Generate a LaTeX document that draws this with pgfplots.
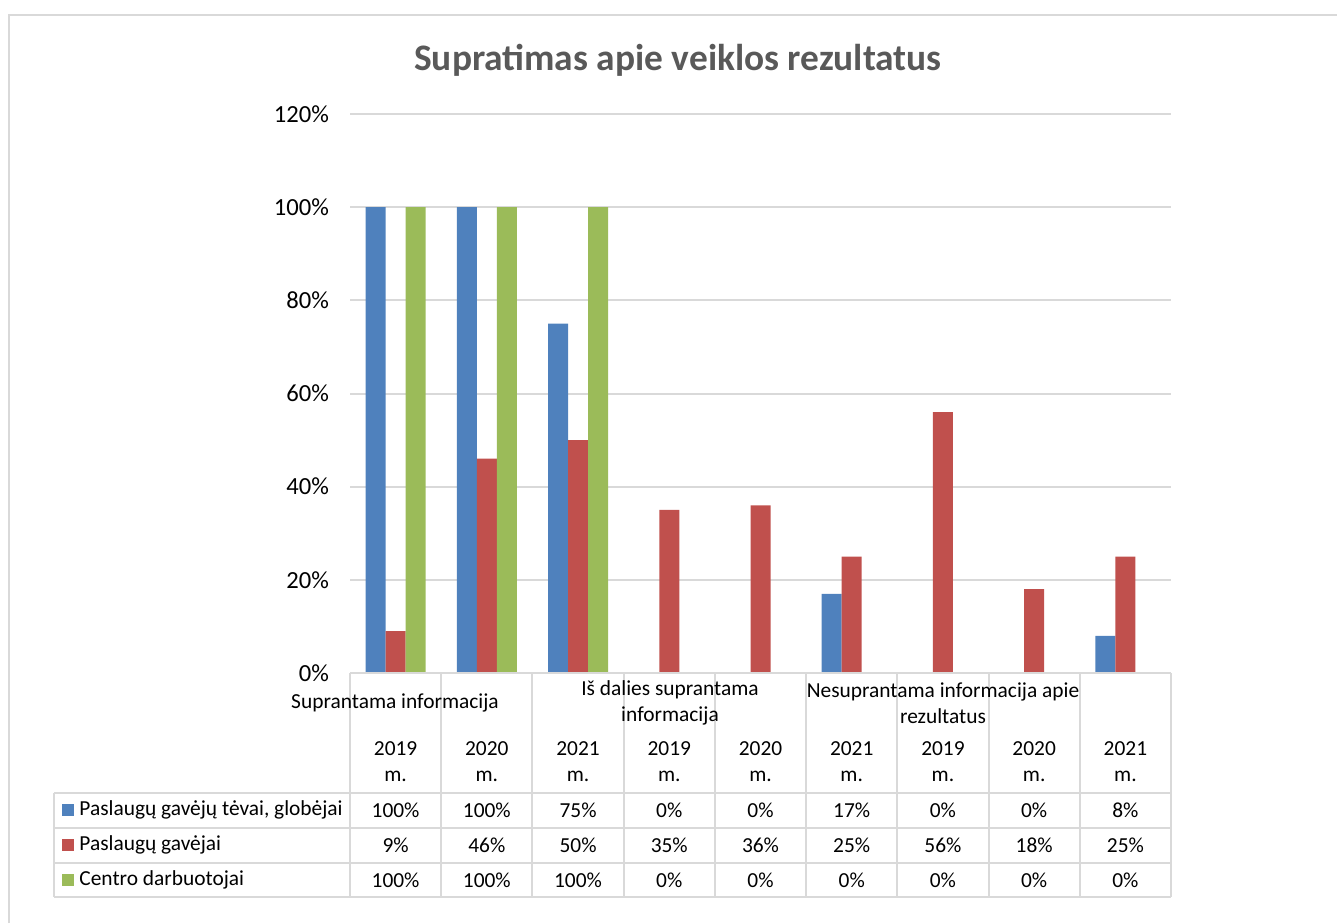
\documentclass[border=0pt]{standalone}
\usepackage{pgfplots}
\pgfplotsset{compat=1.18}
\usepackage{fontspec}
\setmainfont{Carlito}
\definecolor{sblue}{HTML}{4F81BD}
\definecolor{sred}{HTML}{C0504D}
\definecolor{sgreen}{HTML}{9BBB59}
\definecolor{gridgray}{HTML}{D9D9D9}
\definecolor{titlegray}{HTML}{595959}
\begin{document}
\begin{tikzpicture}
\begin{scope}[x=0.5pt,y=-0.5pt]
\path[use as bounding box] (0,0) rectangle (1337,923);
\draw[gridgray, line width=1pt] (9,923) -- (9,15) -- (1337,15);
\end{scope}
\begin{axis}[
  at={(175pt,-336.5pt)}, anchor=south west,
  scale only axis, width=410.5pt, height=279.5pt,
  xmin=-0.5, xmax=8.5, ymin=0, ymax=120,
  ytick={0,20,...,120},
  yticklabel={\pgfmathprintnumber{\tick}\%},
  /pgf/number format/assume math mode=true,
  yticklabel style={font=\fontsize{12.3}{14}\selectfont, text=black, xshift=-7pt},
  xtick=\empty,
  ymajorgrids, grid style={draw=gridgray, line width=1pt},
  axis line style={draw=none}, tick style={draw=none},
  ybar=0pt, bar width=10pt,
  clip=false,
]
\addplot[fill=sblue, draw=none] coordinates {(0,100) (1,100) (2,75) (3,0) (4,0) (5,17) (6,0) (7,0) (8,8)};
\addplot[fill=sred, draw=none] coordinates {(0,9) (1,46) (2,50) (3,35) (4,36) (5,25) (6,56) (7,18) (8,25)};
\addplot[fill=sgreen, draw=none] coordinates {(0,100) (1,100) (2,100) (3,0) (4,0) (5,0) (6,0) (7,0) (8,0)};
\end{axis}
\begin{scope}[x=0.5pt,y=-0.5pt, every node/.style={font=\fontsize{10.7}{13}\selectfont, inner sep=0pt}]
\node[font=\fontsize{18.7}{20}\selectfont\bfseries, text=titlegray] at (678,60) {Supratimas apie veiklos rezultatus};
% table grid
\draw[gridgray, line width=1pt] (350,673) -- (1171,673);
\foreach \k in {0,...,9} {
  \draw[gridgray, line width=1pt] ({350+\k*91.222},673) -- ({350+\k*91.222},897);
}
\foreach \yy in {793,828,863,897} {
  \draw[gridgray, line width=1pt] (54,\yy) -- (1171,\yy);
}
\draw[gridgray, line width=1pt] (54,793) -- (54,897);
% group labels
\node[align=center] at (395,703) {Suprantama informacija};
\node[align=center] at (670,703) {Iš dalies suprantama\\informacija};
\node[align=center] at (943,703) {Nesuprantama informacija apie\\rezultatus};
% years
\foreach \yr [count=\i from 0] in {2019,2020,2021,2019,2020,2021,2019,2020,2021} {
  \node[align=center] at ({350+(\i+0.5)*91.222},762) {\yr\\m.};
}
% legend keys
\fill[sblue] (62,804) rectangle (74,816);
\fill[sred] (62,839) rectangle (74,851);
\fill[sgreen] (62,874) rectangle (74,886);
\node[anchor=west] at (79,810) {Paslaugų gavėjų tėvai, globėjai};
\node[anchor=west] at (79,845) {Paslaugų gavėjai};
\node[anchor=west] at (79,880) {Centro darbuotojai};
% values
\foreach \v [count=\i from 0] in {100\%,100\%,75\%,0\%,0\%,17\%,0\%,0\%,8\%} {
  \node at ({350+(\i+0.5)*91.222},810) {\v};
}
\foreach \v [count=\i from 0] in {9\%,46\%,50\%,35\%,36\%,25\%,56\%,18\%,25\%} {
  \node at ({350+(\i+0.5)*91.222},845) {\v};
}
\foreach \v [count=\i from 0] in {100\%,100\%,100\%,0\%,0\%,0\%,0\%,0\%,0\%} {
  \node at ({350+(\i+0.5)*91.222},880) {\v};
}
\end{scope}
\end{tikzpicture}
\end{document}
